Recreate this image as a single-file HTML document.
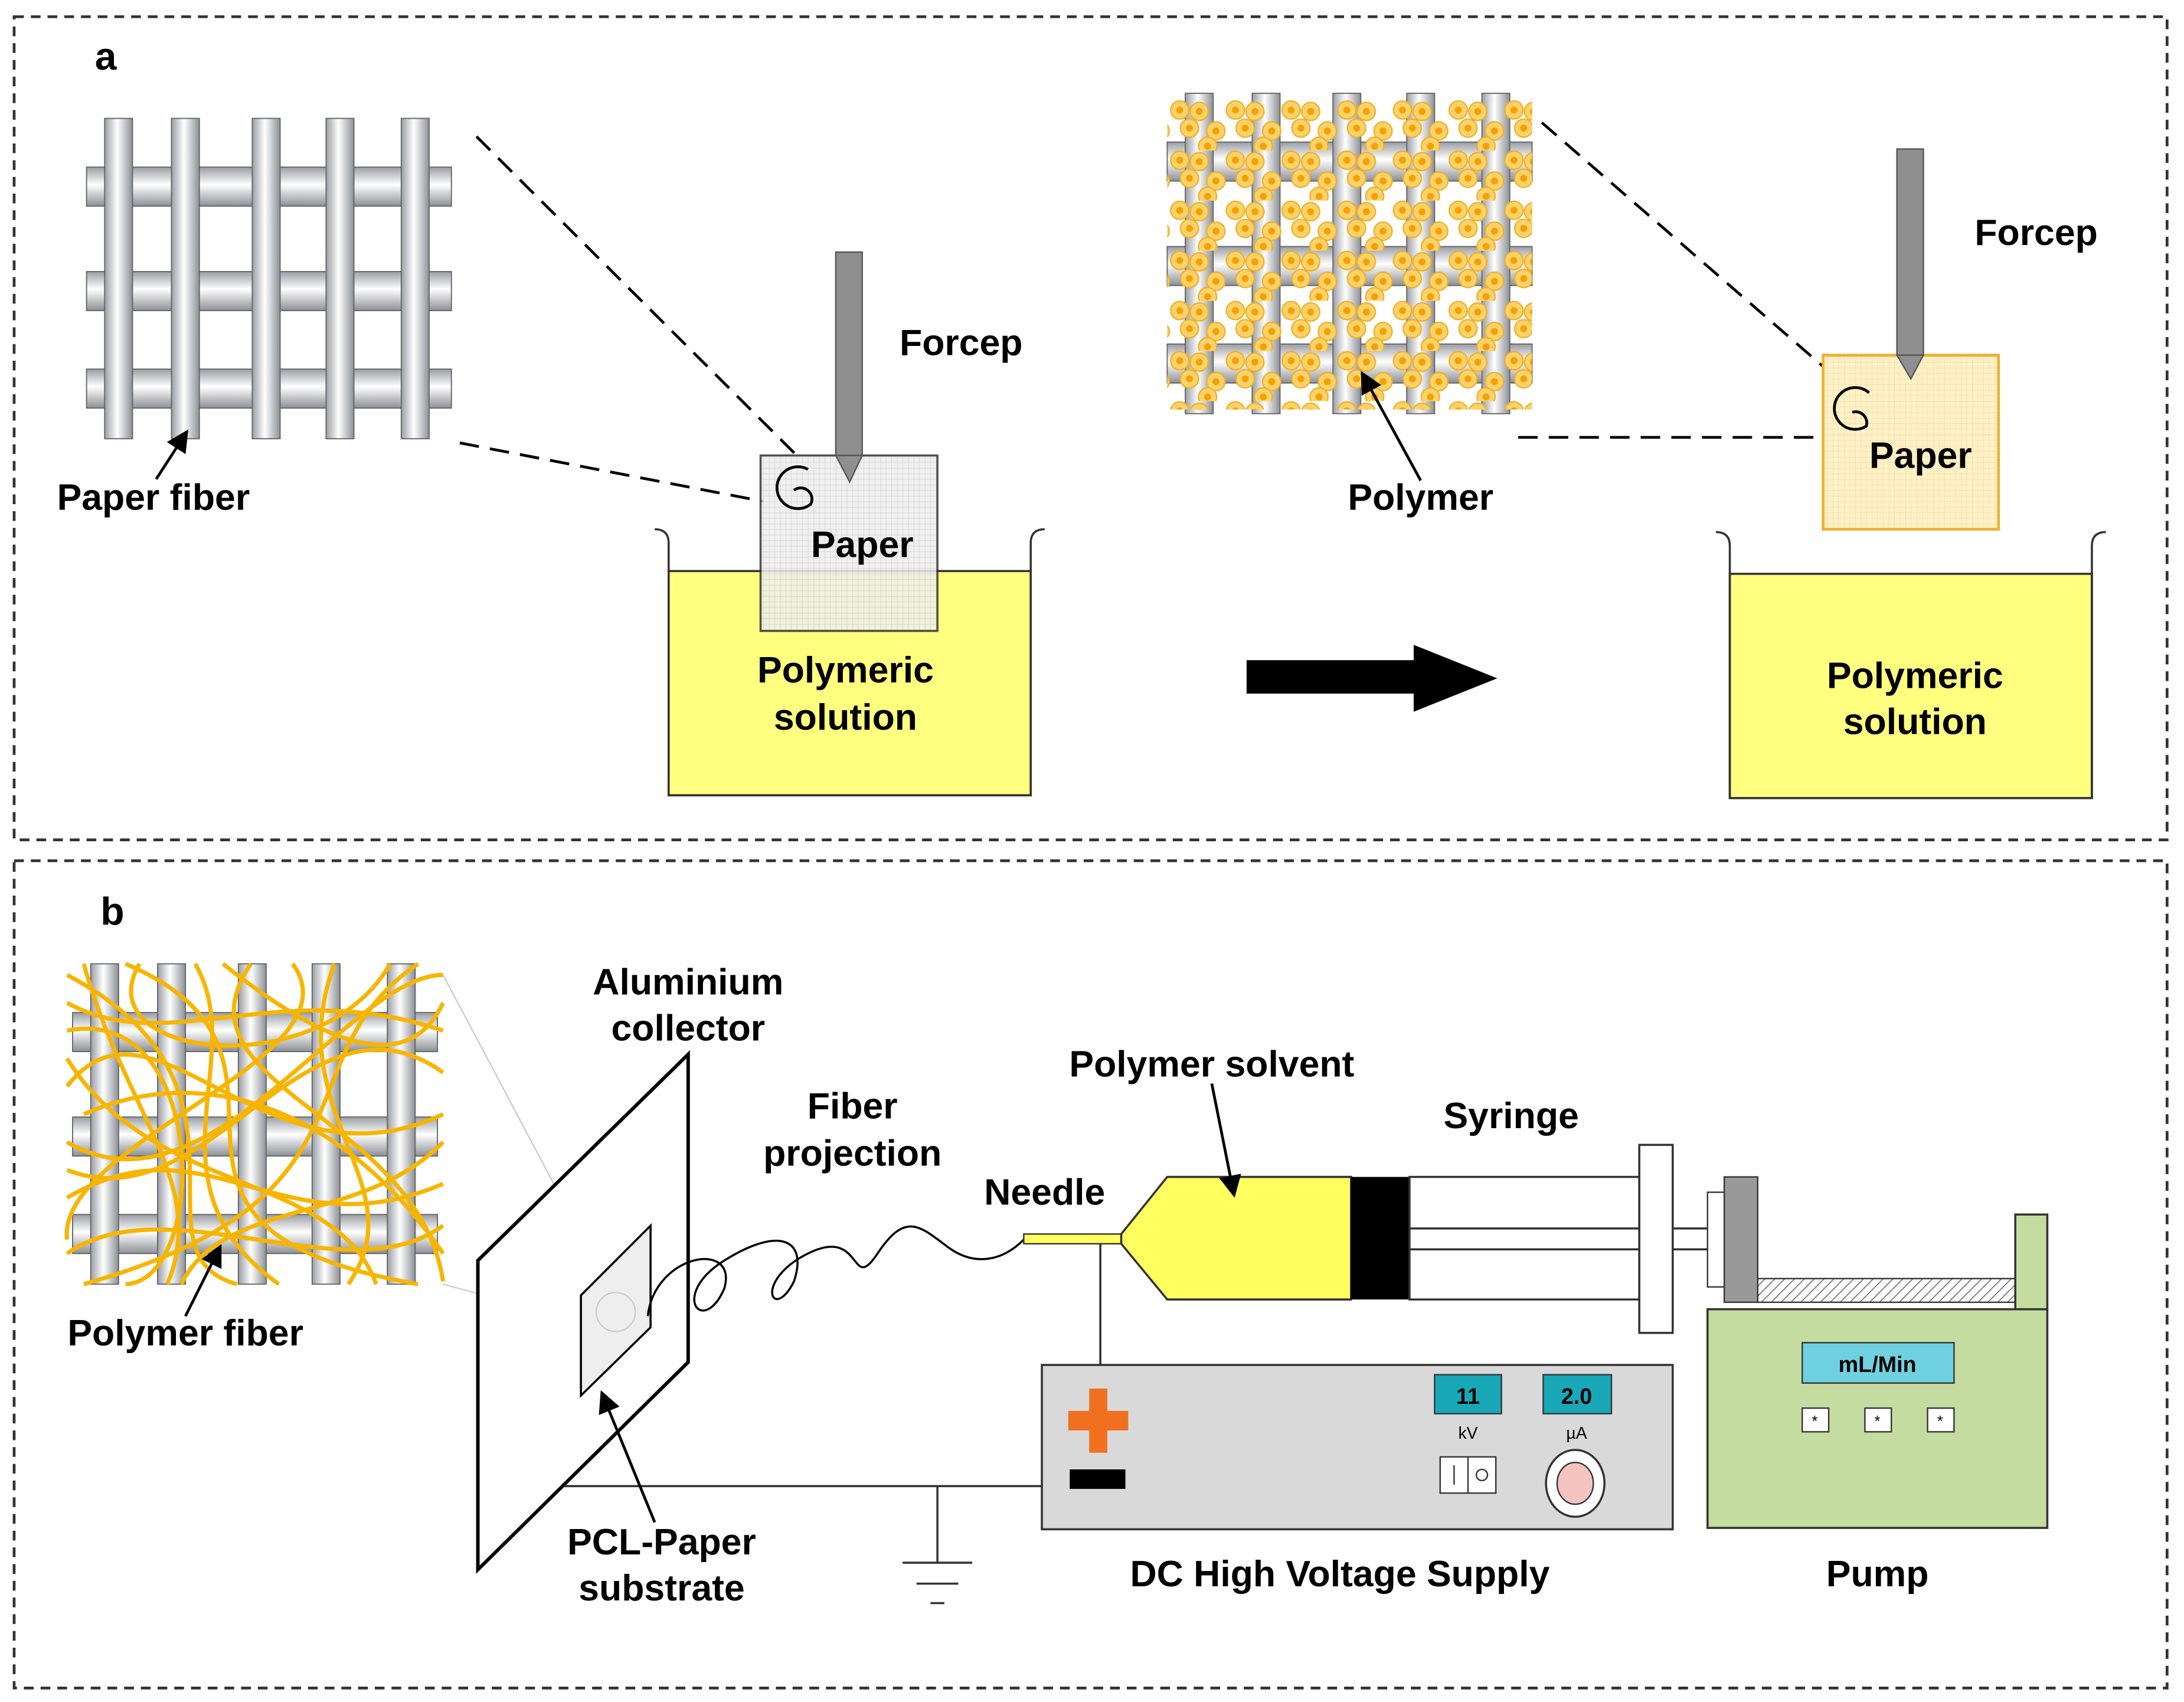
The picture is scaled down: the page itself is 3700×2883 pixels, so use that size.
<!DOCTYPE html>
<html><head><meta charset="utf-8"><style>html,body{margin:0;padding:0;background:#fff}svg{display:block}</style></head><body>
<svg width="3700" height="2883" viewBox="0 0 1568 1222" xmlns="http://www.w3.org/2000/svg" font-family="'Liberation Sans',Arial,sans-serif" font-weight="bold">
<defs>
<linearGradient id="hb" x1="0" y1="0" x2="0" y2="1"><stop offset="0" stop-color="#9a9ea4"/><stop offset="0.45" stop-color="#ffffff"/><stop offset="1" stop-color="#8c9096"/></linearGradient>
<linearGradient id="vb" x1="0" y1="0" x2="1" y2="0"><stop offset="0" stop-color="#9a9ea4"/><stop offset="0.45" stop-color="#ffffff"/><stop offset="1" stop-color="#8c9096"/></linearGradient>
<pattern id="grid" width="4" height="4" patternUnits="userSpaceOnUse"><rect width="4" height="4" fill="#eeeeee"/><path d="M0 0H4M0 0V4" stroke="#c8c8c8" stroke-width="0.6"/></pattern>
<pattern id="ogrid" width="4" height="4" patternUnits="userSpaceOnUse"><rect width="4" height="4" fill="#fff2c8"/><path d="M0 0H4M0 0V4" stroke="#f5d9a0" stroke-width="0.6"/></pattern>
<pattern id="dots" width="40" height="36" patternUnits="userSpaceOnUse">
<g fill="#fcd36a" stroke="#f0b02a" stroke-width="1">
<circle cx="7" cy="7" r="6.5"/><circle cx="21" cy="8" r="6.5"/><circle cx="14" cy="20" r="6.5"/><circle cx="33" cy="22" r="6.5"/><circle cx="27" cy="33" r="6.5"/></g>
<g fill="#f5a000"><circle cx="7" cy="7" r="2.5"/><circle cx="21" cy="8" r="2.5"/><circle cx="14" cy="20" r="2.5"/><circle cx="33" cy="22" r="2.5"/><circle cx="27" cy="33" r="2.5"/></g>
</pattern>
<pattern id="hatch" width="5" height="5" patternUnits="userSpaceOnUse" patternTransform="rotate(45)"><rect width="5" height="5" fill="#fff"/><path d="M0 0V5" stroke="#777" stroke-width="1.5"/></pattern>
<g id="fgrid">
<rect x="0" y="35" width="262" height="28" fill="url(#hb)" stroke="#666" stroke-width="0.8"/>
<rect x="0" y="110" width="262" height="28" fill="url(#hb)" stroke="#666" stroke-width="0.8"/>
<rect x="0" y="180" width="262" height="28" fill="url(#hb)" stroke="#666" stroke-width="0.8"/>
<rect x="13" y="0" width="20" height="230" fill="url(#vb)" stroke="#666" stroke-width="0.8"/>
<rect x="61" y="0" width="20" height="230" fill="url(#vb)" stroke="#666" stroke-width="0.8"/>
<rect x="119" y="0" width="20" height="230" fill="url(#vb)" stroke="#666" stroke-width="0.8"/>
<rect x="172" y="0" width="20" height="230" fill="url(#vb)" stroke="#666" stroke-width="0.8"/>
<rect x="226" y="0" width="20" height="230" fill="url(#vb)" stroke="#666" stroke-width="0.8"/>
</g>
<marker id="ah" markerWidth="8" markerHeight="8" refX="7" refY="4" orient="auto"><path d="M0 0L8 4L0 8z" fill="#000"/></marker>
</defs>
<rect width="1568" height="1222" fill="#fff"/>
<rect x="10" y="12" width="1546" height="591" fill="none" stroke="#333" stroke-width="2" stroke-dasharray="7,5"/>
<rect x="10" y="618" width="1546" height="594" fill="none" stroke="#333" stroke-width="2" stroke-dasharray="7,5"/>
<text x="68" y="50" font-size="28">a</text>
<text x="72" y="664" font-size="28">b</text>

<use href="#fgrid" x="62" y="85"/>
<line x1="342" y1="98" x2="575" y2="330" stroke="#000" stroke-width="2" stroke-dasharray="14,8"/>
<line x1="330" y1="318" x2="548" y2="360" stroke="#000" stroke-width="2" stroke-dasharray="14,8"/>
<text x="110" y="366" font-size="26.5" text-anchor="middle">Paper fiber</text>
<line x1="112" y1="344" x2="134" y2="310" stroke="#000" stroke-width="2" marker-end="url(#ah)"/>
<rect x="480" y="410" width="260" height="161" fill="#ffff80" stroke="#333" stroke-width="1.5"/>
<path d="M470 380 Q480 380 480 390 V571 H740 V390 Q740 380 750 380" fill="none" stroke="#333" stroke-width="1.5"/>
<rect x="546" y="327" width="127" height="126" fill="url(#grid)" stroke="#333" stroke-width="1.5" opacity="0.85"/>
<path d="M580 337 A15 15 0 1 0 582 362 A8 8 0 0 0 570 352" fill="none" stroke="#000" stroke-width="2"/>
<rect x="600" y="181" width="19" height="146" fill="#8f8f8f" stroke="#555"/>
<path d="M600 327 L610 346 L619 327 Z" fill="#8f8f8f" stroke="#555"/>
<text x="690" y="255" font-size="26.5" text-anchor="middle">Forcep</text>
<text x="619" y="400" font-size="26.5" text-anchor="middle">Paper</text>
<text x="607" y="490" font-size="26.5" text-anchor="middle">Polymeric</text>
<text x="607" y="524" font-size="26.5" text-anchor="middle">solution</text>

<path d="M895 474 H1015 V463 L1075 487 L1015 511 V498 H895 Z" fill="#000"/>

<use href="#fgrid" x="838" y="67"/>
<rect x="838" y="72" width="262" height="222" fill="url(#dots)"/>
<line x1="1107" y1="88" x2="1340" y2="290" stroke="#000" stroke-width="2" stroke-dasharray="14,8"/>
<line x1="1090" y1="314" x2="1312" y2="314" stroke="#000" stroke-width="2" stroke-dasharray="14,8"/>
<text x="1020" y="366" font-size="26.5" text-anchor="middle">Polymer</text>
<line x1="1020" y1="345" x2="978" y2="268" stroke="#000" stroke-width="2" marker-end="url(#ah)"/>
<rect x="1242" y="412" width="260" height="161" fill="#ffff80" stroke="#333" stroke-width="1.5"/>
<path d="M1232 382 Q1242 382 1242 392 V573 H1502 V392 Q1502 382 1512 382" fill="none" stroke="#333" stroke-width="1.5"/>
<rect x="1309" y="255" width="126" height="125" fill="url(#ogrid)" stroke="#f0b030" stroke-width="2"/>
<path d="M1342 282 A15 15 0 1 0 1340 306 A8 8 0 0 0 1330 296" fill="none" stroke="#000" stroke-width="2"/>
<rect x="1362" y="107" width="19" height="148" fill="#8f8f8f" stroke="#555"/>
<path d="M1362 255 L1372 272 L1381 255 Z" fill="#8f8f8f" stroke="#555"/>
<text x="1462" y="176" font-size="26.5" text-anchor="middle">Forcep</text>
<text x="1379" y="336" font-size="26.5" text-anchor="middle">Paper</text>
<text x="1375" y="494" font-size="26.5" text-anchor="middle">Polymeric</text>
<text x="1375" y="527" font-size="26.5" text-anchor="middle">solution</text>

<use href="#fgrid" x="52" y="692"/>
<g fill="none" stroke="#f7b500" stroke-width="3">
<path d="M48 720 C120 760 200 700 318 740"/><path d="M48 780 C110 700 190 860 318 800"/>
<path d="M60 692 C90 800 150 850 120 922"/><path d="M140 692 C180 760 100 850 200 922"/>
<path d="M240 692 C200 800 300 850 250 922"/><path d="M48 860 C150 800 200 900 318 850"/>
<path d="M48 900 C120 850 250 930 318 880"/><path d="M90 692 C250 760 60 880 300 922"/>
<path d="M300 692 C200 760 280 860 60 922"/><path d="M48 820 C150 880 250 700 318 700"/>
<path d="M180 692 C120 780 300 800 318 920"/><path d="M48 740 C150 720 150 920 90 922"/>
<path d="M210 692 C260 760 40 820 48 890"/><path d="M318 770 C220 700 150 880 48 840"/>
<path d="M100 692 C60 760 230 780 280 692"/><path d="M130 922 C160 860 260 880 318 820"/>
<path d="M48 700 C200 780 90 900 170 922"/><path d="M270 922 C240 840 110 860 48 760"/>
<path d="M318 900 C250 800 150 760 60 800"/><path d="M160 692 C220 740 290 780 318 720"/>
</g>
<line x1="318" y1="700" x2="440" y2="930" stroke="#ccc" stroke-width="1"/>
<line x1="318" y1="922" x2="440" y2="955" stroke="#ccc" stroke-width="1"/>
<text x="133" y="966" font-size="26.5" text-anchor="middle">Polymer fiber</text>
<line x1="133" y1="945" x2="158" y2="895" stroke="#000" stroke-width="2" marker-end="url(#ah)"/>

<path d="M343 905 L494 757 L494 978 L343 1127 Z" fill="#fff" stroke="#000" stroke-width="2.5"/>
<path d="M417 930 L467 880 L467 953 L417 1002 Z" fill="#eeeeee" stroke="#000" stroke-width="1.5"/>
<circle cx="442" cy="942" r="14" fill="none" stroke="#ccc"/>
<text x="494" y="714" font-size="26.5" text-anchor="middle">Aluminium</text>
<text x="494" y="747" font-size="26.5" text-anchor="middle">collector</text>
<text x="612" y="803" font-size="26.5" text-anchor="middle">Fiber</text>
<text x="612" y="837" font-size="26.5" text-anchor="middle">projection</text>
<path d="M465 945 C470 900 530 890 520 925 C505 960 480 930 520 905 C560 880 580 890 570 920 C555 950 540 920 580 900 C620 880 610 930 630 900 C650 870 660 880 680 895 C700 910 720 905 735 890" fill="none" stroke="#000" stroke-width="1.5"/>
<text x="750" y="865" font-size="26.5" text-anchor="middle">Needle</text>
<rect x="735" y="886" width="72" height="7" fill="#ffff60" stroke="#333"/>
<path d="M805 886 L838 845 L970 845 L970 933 L838 933 L805 893 Z" fill="#ffff60" stroke="#333" stroke-width="1.5"/>
<rect x="970" y="845" width="42" height="88" fill="#000"/>
<rect x="1012" y="845" width="165" height="88" fill="#fff" stroke="#333" stroke-width="1.5"/>
<rect x="1012" y="882" width="216" height="15" fill="#fff" stroke="#333" stroke-width="1.5"/>
<rect x="1177" y="822" width="24" height="135" fill="#fff" stroke="#333" stroke-width="1.5"/>
<text x="870" y="773" font-size="26.5" text-anchor="middle">Polymer solvent</text>
<line x1="870" y1="778" x2="886" y2="858" stroke="#000" stroke-width="2" marker-end="url(#ah)"/>
<text x="1085" y="810" font-size="26.5" text-anchor="middle">Syringe</text>

<rect x="1226" y="940" width="244" height="157" fill="#c4dca0" stroke="#333" stroke-width="1.5"/>
<rect x="1262" y="918" width="185" height="17" fill="url(#hatch)" stroke="#333"/>
<rect x="1447" y="872" width="23" height="68" fill="#c4dca0" stroke="#333" stroke-width="1.5"/>
<rect x="1226" y="856" width="14" height="68" fill="#fff" stroke="#333"/>
<rect x="1238" y="845" width="24" height="90" fill="#999" stroke="#333"/>
<rect x="1294" y="964" width="109" height="29" fill="#6fd0e0" stroke="#333"/>
<text x="1348" y="985" font-size="16" text-anchor="middle">mL/Min</text>
<g font-size="11" font-weight="normal" text-anchor="middle">
<rect x="1294" y="1011" width="19" height="17" fill="#fff" stroke="#333"/><text x="1303" y="1024">*</text>
<rect x="1339" y="1011" width="19" height="17" fill="#fff" stroke="#333"/><text x="1348" y="1024">*</text>
<rect x="1384" y="1011" width="19" height="17" fill="#fff" stroke="#333"/><text x="1393" y="1024">*</text>
</g>
<text x="1348" y="1139" font-size="26.5" text-anchor="middle">Pump</text>

<line x1="790" y1="893" x2="790" y2="980" stroke="#333" stroke-width="1.5"/>
<rect x="748" y="980" width="453" height="118" fill="#d9d9d9" stroke="#333" stroke-width="1.5"/>
<path d="M782 997 H795 V1013 H810 V1027 H795 V1043 H782 V1027 H767 V1013 H782 Z" fill="#f07020"/>
<rect x="768" y="1055" width="40" height="14" fill="#000"/>
<rect x="1030" y="987" width="48" height="28" fill="#18a8b8" stroke="#333"/>
<text x="1054" y="1008" font-size="16" text-anchor="middle">11</text>
<rect x="1108" y="987" width="49" height="28" fill="#18a8b8" stroke="#333"/>
<text x="1132" y="1008" font-size="16" text-anchor="middle">2.0</text>
<text x="1054" y="1033" font-size="12" font-weight="normal" text-anchor="middle">kV</text>
<text x="1132" y="1033" font-size="12" font-weight="normal" text-anchor="middle">µA</text>
<rect x="1034" y="1046" width="40" height="26" fill="#fff" stroke="#333"/>
<line x1="1054" y1="1046" x2="1054" y2="1072" stroke="#333"/>
<line x1="1044" y1="1052" x2="1044" y2="1066" stroke="#333"/>
<circle cx="1064" cy="1059" r="4" fill="none" stroke="#333"/>
<ellipse cx="1131" cy="1065" rx="21" ry="24" fill="#fff" stroke="#333" stroke-width="1.5"/>
<ellipse cx="1131" cy="1065" rx="13" ry="15" fill="#f4c4c0" stroke="#333"/>
<text x="962" y="1139" font-size="26.5" text-anchor="middle">DC High Voltage Supply</text>

<line x1="748" y1="1067" x2="405" y2="1067" stroke="#333" stroke-width="1.5"/>
<line x1="673" y1="1067" x2="673" y2="1122" stroke="#333" stroke-width="1.5"/>
<line x1="648" y1="1122" x2="698" y2="1122" stroke="#333" stroke-width="1.5"/>
<line x1="658" y1="1137" x2="688" y2="1137" stroke="#333" stroke-width="1.5"/>
<line x1="668" y1="1151" x2="678" y2="1151" stroke="#333" stroke-width="1.5"/>
<text x="475" y="1116" font-size="26.5" text-anchor="middle">PCL-Paper</text>
<text x="475" y="1149" font-size="26.5" text-anchor="middle">substrate</text>
<line x1="470" y1="1093" x2="432" y2="1000" stroke="#000" stroke-width="2" marker-end="url(#ah)"/>
</svg>
</body></html>
